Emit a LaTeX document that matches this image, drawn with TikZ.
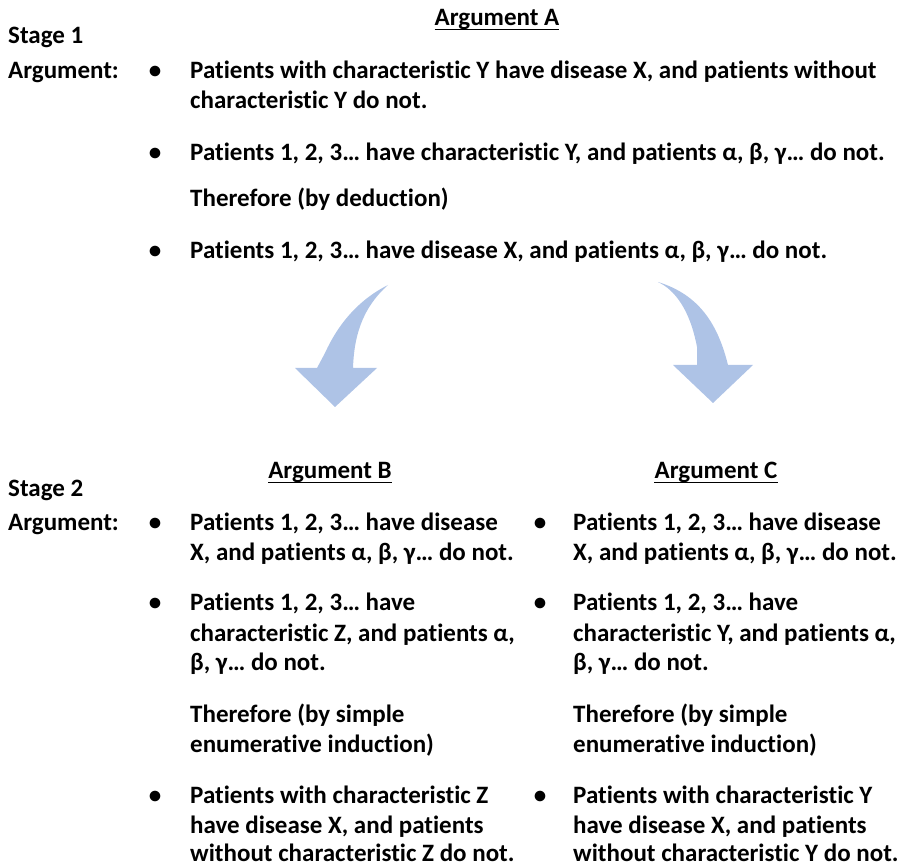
\documentclass[tikz,border=0pt]{standalone}
\usepackage{fontspec}
\setmainfont[Ligatures=NoCommon]{Carlito}
\definecolor{arrowblue}{RGB}{174,195,230}
\begin{document}
\begin{tikzpicture}[x=1pt,y=-1pt,
  txt/.style={anchor=base west,inner sep=0pt,font=\fontsize{25}{29}\selectfont\bfseries},
  head/.style={anchor=base,inner sep=0pt,font=\fontsize{25}{29}\selectfont\bfseries},
  bul/.style={anchor=base,inner sep=0pt,font=\fontsize{25}{29}\selectfont\bfseries},
  uline/.style={line width=1.5pt},
  bigarrow/.style={fill=arrowblue,draw=none}]
\useasboundingbox (0,0) rectangle (903,866);
% ---------- Stage 1 ----------
\node[head] (hA) at (497,26) {Argument A};
\draw[uline] ([yshift=-3.5pt]hA.base west) -- ([yshift=-3.5pt]hA.base east);
\node[txt] (s1) at (8,44) {Stage 1};
\node[txt] (a1) at (8,79) {Argument:};
\node[bul] (b11) at (155,79) {•};
\node[txt] (t11) at (190,79) {Patients with characteristic Y have disease X, and patients without};
\node[txt] (t12) at (190,109) {characteristic Y do not.};
\node[bul] (b12) at (155,161) {•};
\node[txt] (t13) at (190,161) {Patients 1, 2, 3… have characteristic Y, and patients α, β, γ… do not.};
\node[txt] (t14) at (190,207) {Therefore (by deduction)};
\node[bul] (b13) at (155,259) {•};
\node[txt] (t15) at (190,259) {Patients 1, 2, 3… have disease X, and patients α, β, γ… do not.};
% ---------- arrows ----------
\fill[bigarrow] (388,285) .. controls (362,298) and (340,320) .. (325,353)
  -- (317,368) -- (295,368) -- (335,407) -- (377,368) -- (353,368)
  .. controls (354,340) and (360,310) .. (388,285) -- cycle;
\fill[bigarrow] (658,282) .. controls (675,290) and (690,310) .. (697,347)
  -- (697,365) -- (673,365) -- (713,403) -- (753,365) -- (728,365)
  .. controls (718,325) and (700,295) .. (658,282) -- cycle;
% ---------- Stage 2 ----------
\node[head] (hB) at (330,479) {Argument B};
\draw[uline] ([yshift=-3.5pt]hB.base west) -- ([yshift=-3.5pt]hB.base east);
\node[head] (hC) at (716,479) {Argument C};
\draw[uline] ([yshift=-3.5pt]hC.base west) -- ([yshift=-3.5pt]hC.base east);
\node[txt] (s2) at (8,496.5) {Stage 2};
\node[txt] (a2) at (8,530.5) {Argument:};
% Argument B
\node[bul] (bB1) at (155,530.5) {•};
\node[txt] at (190,530.5) {Patients 1, 2, 3… have disease};
\node[txt] at (190,560.5) {X, and patients α, β, γ… do not.};
\node[bul] (bB2) at (155,610.5) {•};
\node[txt] at (190,610.5) {Patients 1, 2, 3… have};
\node[txt] at (190,641.5) {characteristic Z, and patients α,};
\node[txt] at (190,670.5) {β, γ… do not.};
\node[txt] at (190,722.5) {Therefore (by simple};
\node[txt] at (190,752.5) {enumerative induction)};
\node[bul] (bB3) at (155,803.5) {•};
\node[txt] at (190,803.5) {Patients with characteristic Z};
\node[txt] at (190,833.5) {have disease X, and patients};
\node[txt] at (190,861.5) {without characteristic Z do not.};
% Argument C
\node[bul] (bC1) at (540,530.5) {•};
\node[txt] at (573,530.5) {Patients 1, 2, 3… have disease};
\node[txt] at (573,560.5) {X, and patients α, β, γ… do not.};
\node[bul] (bC2) at (540,610.5) {•};
\node[txt] at (573,610.5) {Patients 1, 2, 3… have};
\node[txt] at (573,641.5) {characteristic Y, and patients α,};
\node[txt] at (573,670.5) {β, γ… do not.};
\node[txt] at (573,722.5) {Therefore (by simple};
\node[txt] at (573,752.5) {enumerative induction)};
\node[bul] (bC3) at (540,803.5) {•};
\node[txt] at (573,803.5) {Patients with characteristic Y};
\node[txt] at (573,833.5) {have disease X, and patients};
\node[txt] at (573,861.5) {without characteristic Y do not.};
\end{tikzpicture}
\end{document}
